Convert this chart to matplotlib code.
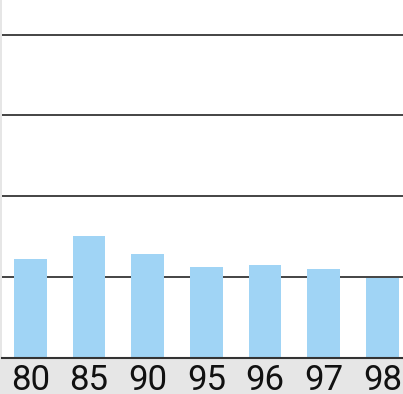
import matplotlib
matplotlib.use("Agg")
import matplotlib.pyplot as plt

years = ["80", "85", "90", "95", "96", "97", "98"]
values = [6.1, 7.5, 6.4, 5.6, 5.7, 5.5, 4.9]
grid_levels = [5, 10, 15, 20]

W, H = 403, 394
fig = plt.figure(figsize=(W / 100, H / 100), dpi=100, facecolor="#e6e6e6")
ax = fig.add_axes([2 / W, 36.5 / H, 1 - 2 / W, 1 - 36.5 / H])
ax.set_facecolor("white")

x = list(range(len(years)))
ax.bar(x, values, width=0.557, color="#a0d4f5", zorder=3)

for g in grid_levels:
    ax.axhline(g, color="#111111", lw=1.1, zorder=1)

ax.set_xlim(-0.482, 6.352)
ax.set_ylim(0, 22.14)

for s in ["top", "left", "right"]:
    ax.spines[s].set_visible(False)
ax.spines["bottom"].set_color("#333333")
ax.spines["bottom"].set_linewidth(1.5)
ax.spines["bottom"].set_zorder(4)

ax.set_yticks([])
ax.set_xticks(x)
ax.set_xticklabels(years, fontsize=25, family=["Roboto", "DejaVu Sans"],
                   fontweight="normal", color="#111111")
ax.tick_params(axis="x", length=0, pad=5)

fig.savefig("out.png", dpi=100, facecolor=fig.get_facecolor())
